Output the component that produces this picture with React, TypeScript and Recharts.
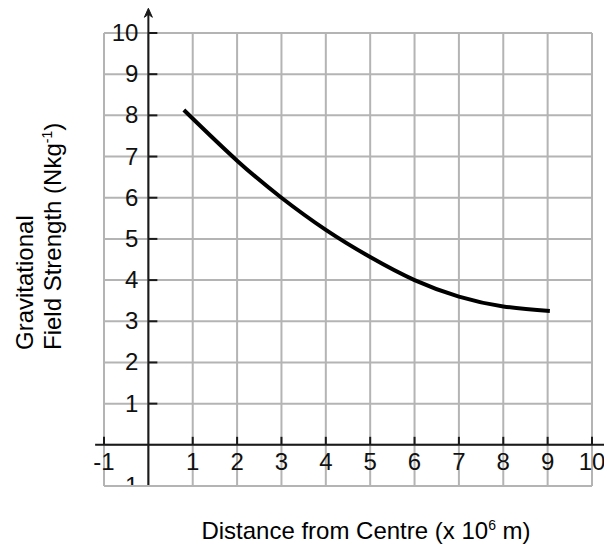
import React from 'react';
import { LineChart, Line, XAxis, YAxis, CartesianGrid, ReferenceLine, ReferenceDot } from 'recharts';

// distance from centre (x 10^6 m) and field strength (N/kg)
const distance = [0.8, 2, 3, 4, 5, 6, 7, 8, 9.05];
const fieldStrength = [8.13, 6.9, 6.0, 5.22, 4.56, 4.0, 3.6, 3.36, 3.25];

const xTicks = [-1, 1, 2, 3, 4, 5, 6, 7, 8, 9, 10];
const yTicks = [-1, 1, 2, 3, 4, 5, 6, 7, 8, 9, 10];
const xGrid = [-1, 0, 1, 2, 3, 4, 5, 6, 7, 8, 9, 10];
const yGrid = [0, 1, 2, 3, 4, 5, 6, 7, 8, 9, 10];

const data = distance.map((d, i) => ({ d, g: fieldStrength[i] }));

const tickFont = '"Liberation Sans Narrow", "Liberation Sans", Arial, sans-serif';
const titleFont = '"Liberation Sans", Arial, sans-serif';
const axisColor = '#1a1a1a';

const XTick = (props: any) => {
  const { cx, cy, label } = props;
  return (
    <g>
      <line x1={cx} y1={cy} x2={cx} y2={cy - 8} stroke={axisColor} strokeWidth={2} />
      <text x={cx} y={cy + 25} textAnchor="middle" fontSize={24} fontFamily={tickFont} fill="#111">
        {label}
      </text>
    </g>
  );
};

const YTick = (props: any) => {
  const { cx, cy, label, cut } = props;
  const id = `ycut-${label}`;
  return (
    <g>
      {cut && (
        <defs>
          <clipPath id={id}>
            <rect x={cx - 40} y={cy - 30} width={40} height={29} />
          </clipPath>
        </defs>
      )}
      {!cut && <line x1={cx} y1={cy} x2={cx + 9} y2={cy} stroke={axisColor} strokeWidth={2} />}
      <text
        x={cx - 10}
        y={cy + 8}
        textAnchor="end"
        fontSize={24}
        fontFamily={tickFont}
        fill="#111"
        clipPath={cut ? `url(#${id})` : undefined}
      >
        {label}
      </text>
    </g>
  );
};

const ArrowAxis = (props: any) => {
  const { x1, y1, x2, y2 } = props;
  const topY = Math.min(y1, y2);
  const botY = Math.max(y1, y2);
  return (
    <g>
      <line x1={x1} y1={botY - 1} x2={x2} y2={topY + 3} stroke={axisColor} strokeWidth={2} />
      <path
        d={`M${x1 - 4},${topY + 9} L${x1},${topY} L${x1 + 4},${topY + 9} L${x1},${topY + 6} Z`}
        fill={axisColor}
        stroke={axisColor}
        strokeWidth={1}
      />
    </g>
  );
};

export default function App() {
  return (
    <div style={{ position: 'absolute', left: 0, top: 0, width: 604, height: 547, background: '#fff' }}>
      <LineChart width={604} height={547} data={data} margin={{ top: 33, right: 12, bottom: 61, left: 104 }}>
        <XAxis dataKey="d" type="number" domain={[-1, 10]} ticks={xGrid} hide allowDataOverflow />
        <YAxis type="number" domain={[-1, 10]} ticks={yGrid} hide allowDataOverflow />
        <CartesianGrid stroke="#b4b4b4" strokeWidth={2} />
        <ReferenceLine
          segment={[{ x: -1.2, y: 0 }, { x: 10.3, y: 0 }]}
          stroke={axisColor}
          strokeWidth={2}
          ifOverflow="visible"
        />
        <ReferenceLine
          segment={[{ x: 0, y: -1 }, { x: 0, y: 10.6 }]}
          ifOverflow="visible"
          shape={<ArrowAxis />}
        />
        {xTicks.map((v) => (
          <ReferenceDot key={`x${v}`} x={v} y={0} r={0} ifOverflow="visible" shape={<XTick label={String(v)} />} />
        ))}
        {yTicks.map((v) => (
          <ReferenceDot
            key={`y${v}`}
            x={0}
            y={v}
            r={0}
            ifOverflow="visible"
            shape={<YTick label={String(v)} cut={v < 0} />}
          />
        ))}
        <Line
          type="natural"
          dataKey="g"
          stroke="#000"
          strokeWidth={4}
          dot={false}
          activeDot={false}
          isAnimationActive={false}
        />
      </LineChart>
      <svg width={604} height={547} style={{ position: 'absolute', left: 0, top: 0, pointerEvents: 'none' }}>
        <g fontFamily={titleFont} fontSize={24} fill="#000">
          <text transform="translate(33,350) rotate(-90)">Gravitational</text>
          <text transform="translate(61,350) rotate(-90)">
            Field Strength (Nkg
            <tspan dy={-9} fontSize={14}>-1</tspan>
            <tspan dy={9}>)</tspan>
          </text>
          <text x={366} y={539} textAnchor="middle">
            Distance from Centre (x 10
            <tspan dy={-9} fontSize={14}>6</tspan>
            <tspan dy={9}> m)</tspan>
          </text>
        </g>
      </svg>
    </div>
  );
}
